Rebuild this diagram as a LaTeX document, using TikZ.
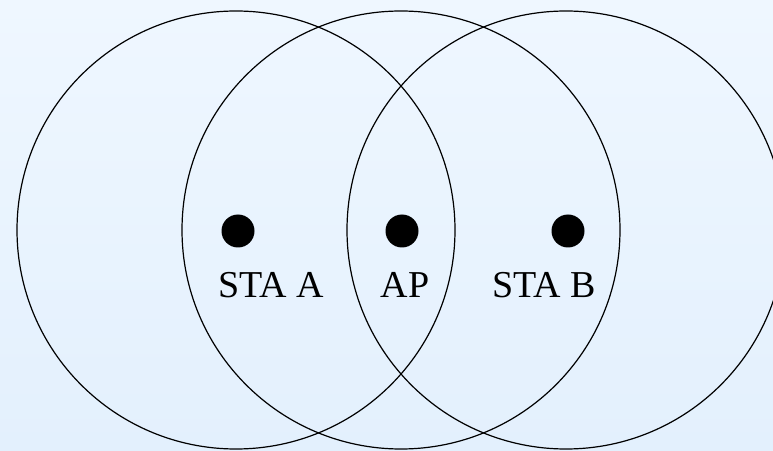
\documentclass[tikz,border=0pt]{standalone}
\usepackage{fontspec}
\setmainfont{Liberation Serif}
\definecolor{bgtop}{HTML}{EFF7FF}
\definecolor{bgbot}{HTML}{E3F0FD}
\begin{document}
\begin{tikzpicture}[x=1pt,y=1pt,
  rangecircle/.style={circle,draw=black,line width=1.2pt,minimum size=438pt,inner sep=0pt},
  station/.style={circle,fill=black,minimum size=33pt,inner sep=0pt},
  lbl/.style={anchor=base,inner sep=0pt,font=\fontsize{38}{45}\selectfont}]
\shade[top color=bgtop,bottom color=bgbot] (0,0) rectangle (773,450);
\useasboundingbox (0,0) rectangle (773,450);
\begin{scope}
\clip (0,0) rectangle (773,450);
\node[rangecircle] (cA) at (236,220) {};
\node[rangecircle] (cP) at (401,220) {};
\node[rangecircle] (cB) at (566,220) {};
\end{scope}
\node[station] (sA) at (238,219) {};
\node[station] (ap) at (402,219) {};
\node[station] (sB) at (568,219) {};
\node[lbl] (tA) at (271,153) {STA A};
\node[lbl] (tP) at (405,153) {AP};
\node[lbl] (tB) at (544,153) {STA B};
\end{tikzpicture}
\end{document}
